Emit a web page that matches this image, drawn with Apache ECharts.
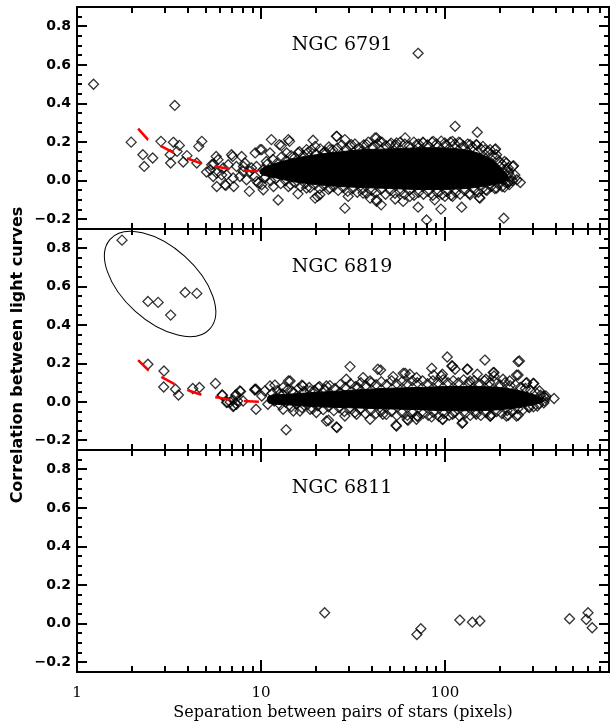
<!DOCTYPE html>
<html>
<head>
<meta charset="utf-8">
<script src="https://cdn.jsdelivr.net/npm/echarts@6/dist/echarts.min.js"></script>
<style>
html,body{margin:0;padding:0;background:#fff;}
#c{width:611px;height:722px;}
</style>
</head>
<body>
<div id="c"></div>
<script>
// ---------------- DATA ----------------
const panelNames = ['NGC 6791', 'NGC 6819', 'NGC 6811'];
const xMajorTicks = [1, 10, 100];
const xMinorTicks = [2,3,4,5,6,7,8,9,20,30,40,50,60,70,80,90,200,300,400,500,600,700];
const yMajorTicks = [-0.2, 0, 0.2, 0.4, 0.6, 0.8];
const yMinorTicks = [-0.15,-0.1,-0.05,0.05,0.1,0.15,0.25,0.3,0.35,0.45,0.5,0.55,0.65,0.7,0.75,0.85];

// NGC 6791 : scattered / edge points
const p1Points = [
[1.23,0.50],[71.5,0.66],[3.4,0.39],[1.97,0.20],[2.28,0.135],[2.32,0.074],[2.58,0.118],[2.86,0.204],
[3.21,0.135],[3.23,0.092],[3.34,0.199],[3.60,0.183],[3.78,0.097],[3.96,0.130],[3.50,0.152],
[4.48,0.092],[4.59,0.178],[4.77,0.204],
[5.06,0.045],[5.31,0.057],[5.53,0.087],[5.71,0.126],[5.84,0.109],[5.75,-0.030],[6.45,-0.024],[7.11,-0.030],
[7.02,0.126],[7.85,0.126],[8.03,0.074],[8.65,-0.055],[9.3,0.144],[9.5,-0.003],[5.40,0.083],[5.50,0.022],
[6.24,0.066],[6.51,0.03],[6.92,0.135],[7.06,0.014],[7.36,0.074],[8.0,0.048],[8.35,0.005],[8.89,0.066],
[9.27,0.022],[9.9,0.161],[10.1,-0.021],[10.5,0.014],[10.7,0.1],[11.4,0.213],[11.2,0.144],[11.7,-0.03],
[12.4,-0.1],[12.6,0.187],[13.2,0.057],[13.8,0.144],[14.1,0.213],[5.75,0.04],[6.12,0.03],[6.64,0.083],
[7.68,0.022],[8.18,0.092],[8.7,0.048],[9.46,0.074],[9.65,-0.012],[10.3,0.057],[6.37,-0.021],
[12.9,0.182],[10.1,0.161],[15.9,0.144],[19.2,0.21],[19.7,0.178],[25.7,0.23],[28.6,0.213],[31.0,0.187],
[37.6,0.187],[42.5,0.222],[23.7,0.161],[17.7,0.161],[21.8,0.144],[35.2,0.152],[14.3,0.204],
[15.9,-0.068],[19.7,-0.09],[20.9,-0.073],[28.6,-0.142],[29.8,-0.081],[42.5,-0.107],[23.7,-0.038],
[10.3,-0.047],[14.1,-0.03],[17.7,-0.038],[35.9,-0.064],[39.2,-0.09],[45,-0.125],[60.8,0.222],
[71.5,-0.137],[79.5,-0.203],[95.2,-0.147],[113.6,0.282],[123.4,-0.137],[150,0.251],[155,-0.09],
[188.6,0.165],[209,-0.194],[216,0.092],[236,0.078],[257,-0.009],[220,-0.009],[211,0.04],[41.7,0.222],
[44.2,0.204],[70.1,0.187],[86.5,0.204],[99.9,0.196],[121,0.196],[137,0.187],[148,0.187],[161,0.178],
[176,0.161],[187,0.161],[191,0.135],[211,0.1],[234,0.074],[221,0.066],[225,-0.004],[211,-0.033],
[50.3,0.187],[54.6,0.196],[76.2,0.196],[110,0.204],[42.5,-0.099],[53.7,-0.095],[59.3,-0.107],[88,-0.099],
[154,-0.087],[110,-0.081],[137,-0.073],[167,-0.047],[191,-0.038],[64.5,-0.081],[100,-0.081],[25.9,0.23],
[20.3,-0.081],
// upper edge of the dense cloud
[10.8,0.085],[11.6,0.11],[12.2,0.09],[13,0.125],[13.7,0.105],[14.6,0.13],[15.3,0.12],[16.2,0.15],[17,0.13],
[17.9,0.145],[18.8,0.16],[19.9,0.14],[21,0.165],[22.3,0.15],[23.4,0.175],[24.6,0.16],[26,0.17],[27.5,0.185],
[29,0.165],[30.6,0.18],[32.4,0.19],[34.1,0.17],[36.2,0.185],[38.3,0.2],[40.5,0.175],[43,0.19],[45.5,0.2],
[48,0.18],[51,0.195],[54,0.185],[57.2,0.2],[60.5,0.19],[64,0.18],[67.8,0.2],[72,0.19],[76,0.2],[80.4,0.185],
[85,0.2],[90,0.19],[95.5,0.205],[101,0.185],[107,0.2],[113,0.19],[119,0.2],[126,0.18],[133,0.19],[141,0.175],
[149,0.185],[157,0.165],[165,0.16],[173,0.15],[181,0.13],[189,0.12],[197,0.1],[205,0.085],[213,0.06],
[222,0.04],[229,0.02],[240,0.03],[246,0.005],
// lower edge of the dense cloud
[10.6,0.02],[11.3,0.0],[12,0.01],[12.8,-0.015],[13.6,0.0],[14.5,-0.02],[15.4,-0.01],[16.4,-0.03],[17.4,-0.015],
[18.5,-0.035],[19.6,-0.02],[20.8,-0.04],[22,-0.025],[23.3,-0.045],[24.8,-0.03],[26.3,-0.05],[28,-0.035],
[29.6,-0.055],[31.5,-0.04],[33.4,-0.06],[35.5,-0.045],[37.6,-0.065],[40,-0.05],[42.3,-0.06],[45,-0.045],
[47.6,-0.07],[50.5,-0.05],[53.5,-0.065],[57,-0.055],[60.4,-0.07],[64,-0.05],[68,-0.075],[72,-0.06],
[76.5,-0.07],[81,-0.055],[86,-0.075],[91,-0.06],[96.5,-0.07],[102,-0.055],[108,-0.075],[114.5,-0.06],
[121,-0.07],[128,-0.05],[136,-0.065],[144,-0.045],[152,-0.06],[160,-0.04],[169,-0.05],[178,-0.03],
[187,-0.04],[196,-0.02],[205,-0.03],[214,-0.01],[224,-0.02],[233,0.0]
];
// NGC 6791 : dense core envelope
const p1CoreX     = [10, 12, 15, 20, 27, 35, 50, 70, 100, 130, 160, 185, 205, 220];
const p1CoreUpper = [0.06, 0.09, 0.115, 0.135, 0.15, 0.16, 0.165, 0.17, 0.17, 0.16, 0.135, 0.1, 0.06, 0.025];
const p1CoreLower = [0.035, 0.015, -0.005, -0.02, -0.03, -0.035, -0.04, -0.045, -0.045, -0.04, -0.03, -0.02, -0.01, 0.005];
// NGC 6791 : red model curve
const p1Model = [[2.15,0.27],[2.43,0.213],[2.88,0.178],[3.43,0.14],[4.06,0.113],[4.82,0.087],[5.7,0.074],[7.1,0.057],[8.43,0.052],[10.2,0.05]];

// NGC 6819 : scattered / edge points
const p2Points = [
[1.757,0.842],[2.43,0.523],[2.76,0.518],[3.23,0.452],[3.87,0.570],[4.48,0.565],
[2.43,0.196],[2.97,0.161],[2.96,0.078],[3.43,0.066],[3.56,0.036],[4.26,0.07],[4.63,0.075],[5.66,0.096],
[6.15,0.036],[6.55,0.0],[7.11,-0.02],[7.33,0.036],[7.74,0.054],[7.47,0.005],[9.4,0.066],[9.4,-0.038],
[10.5,0.057],[11.9,0.088],[10.9,-0.012],[13.7,-0.145],[14.4,0.109],[16.7,0.087],[30.5,0.184],[23.3,-0.095],
[25.9,-0.133],[44.7,0.166],[54.6,-0.125],[60.8,0.149],[62.4,-0.09],[70.6,-0.073],[84.8,0.175],[86.6,0.14],
[96.9,0.144],[103,0.234],[109,0.187],[113.6,0.17],[96.9,-0.09],[125,-0.107],[133,0.17],[150,0.144],
[165,0.218],[185,0.153],[185,0.135],[250,0.21],[250,0.14],[276,0.097],[304,0.096],[327,0.057],[354,0.031],
[392,0.018],[250,-0.069],[216,-0.073],[177,-0.073],
[6.17,0.035],[6.51,-0.003],[7.06,0.01],[7.06,-0.024],[7.3,0.036],[8.0,0.005],[9.27,0.062],[10.1,0.031],
[11.2,0.083],[11.7,0.014],[12.6,0.04],[14.1,0.109],[7.36,-0.012],[6.8,0.0],
[9.27,0.066],[7.68,0.057],[13.2,0.075],[16.9,0.083],[14.7,0.057],[20.5,0.075],[22.7,0.083],[26.8,0.049],
[29.1,0.118],[33.7,0.075],[35.9,0.127],[43.2,0.17],[39.2,0.109],[18.5,0.057],
[13.2,-0.038],[16.3,-0.047],[20,-0.055],[22.7,-0.099],[25.7,-0.13],[28.6,-0.073],[33.1,-0.064],[39.2,-0.09],
[18.5,-0.038],[15.0,-0.047],
[52.3,0.132],[59.3,0.149],[110,0.187],[132,0.17],[183,0.153],[254,0.213],[245,0.14],[278,0.101],[302,0.096],
[344,0.031],[70,0.127],[95.7,0.135],[207,0.118],[225,0.109],[137,0.109],[167,0.118],[64.5,0.144],
[54.2,-0.121],[63,-0.095],[70,-0.09],[84.6,-0.078],[97.5,-0.09],[124,-0.111],[176,-0.073],[221,-0.069],
[245,-0.073],[288,-0.029],[318,-0.021],[46,-0.064],[110,-0.064],[148,-0.064],[347,0.005],
// upper edge of the dense cloud
[11.5,0.045],[12.3,0.06],[13.1,0.04],[14,0.065],[15,0.05],[16,0.07],[17.1,0.055],[18.3,0.075],[19.5,0.06],
[20.8,0.08],[22.2,0.065],[23.7,0.085],[25.3,0.07],[27,0.09],[28.8,0.075],[30.7,0.095],[32.7,0.08],[34.9,0.1],
[37.2,0.085],[39.7,0.1],[42.3,0.09],[45.1,0.105],[48.1,0.09],[51.3,0.11],[54.7,0.095],[58.4,0.105],
[62.3,0.095],[66.4,0.11],[70.8,0.1],[75.5,0.11],[80.5,0.095],[86,0.11],[91.6,0.1],[97.7,0.115],[104,0.1],
[111,0.11],[118.5,0.1],[126.5,0.115],[135,0.1],[144,0.11],[153.5,0.095],[164,0.11],[175,0.1],[186.5,0.105],
[199,0.09],[212,0.1],[226,0.085],[241,0.09],[257,0.075],[274,0.07],[292,0.06],[311,0.05],[331,0.035],[352,0.02],
// lower edge of the dense cloud
[11.8,0.005],[12.7,-0.015],[13.6,0.0],[14.6,-0.025],[15.6,-0.01],[16.7,-0.03],[17.9,-0.015],[19.1,-0.035],
[20.4,-0.02],[21.8,-0.04],[23.3,-0.025],[24.9,-0.045],[26.6,-0.03],[28.4,-0.05],[30.3,-0.035],[32.4,-0.055],
[34.6,-0.04],[37,-0.06],[39.5,-0.045],[42.2,-0.06],[45,-0.05],[48,-0.065],[51.3,-0.05],[54.8,-0.07],
[58.5,-0.055],[62.5,-0.07],[66.7,-0.055],[71.2,-0.075],[76,-0.06],[81.2,-0.07],[86.7,-0.055],[92.6,-0.075],
[98.9,-0.06],[105.6,-0.07],[112.8,-0.055],[120.5,-0.075],[128.7,-0.06],[137.4,-0.07],[146.7,-0.055],
[156.7,-0.07],[167.4,-0.055],[178.8,-0.065],[191,-0.05],[204,-0.06],[218,-0.045],[233,-0.05],[249,-0.035],
[266,-0.04],[284,-0.025],[303,-0.025],[323,-0.01],[345,-0.005]
];
const p2CoreX     = [11, 14, 20, 30, 45, 70, 100, 150, 200, 250, 300, 340];
const p2CoreUpper = [0.03, 0.04, 0.05, 0.06, 0.07, 0.075, 0.08, 0.08, 0.075, 0.06, 0.04, 0.015];
const p2CoreLower = [-0.005, -0.015, -0.025, -0.03, -0.035, -0.04, -0.045, -0.045, -0.04, -0.03, -0.015, 0.0];
const p2Model = [[2.15,0.218],[2.44,0.166],[2.92,0.127],[3.41,0.092],[4.12,0.057],[4.82,0.035],[5.85,0.023],[7.08,0.008],[8.5,0.004],[10.3,0.0]];
// circled group in NGC 6819 (ellipse centre, data units)
const p2EllipseCentre = [[2.83, 0.614]];

// NGC 6811
const p3Points = [[22.2,0.057],[70.4,-0.056],[74,-0.026],[120.5,0.019],[141,0.008],[155,0.014],[476,0.026],[587,0.022],[600,0.057],[632,-0.021]];

// ---------------- CHART ----------------
const chart = echarts.init(document.getElementById('c'));
const X_MIN = 1, X_MAX = 780, Y_MIN = -0.25, Y_MAX = 0.9;
const gridTops = [7, 229, 450];
const gridHeights = [222, 221, 222];
const LEFT = 77, WIDTH = 532;
const TICK = {xMaj: 12, xMin: 6, yMaj: 10, yMin: 5};

const grids = [], xAxes = [], yAxes = [], series = [], titles = [];
const panelPoints = [p1Points, p2Points, p3Points];
const cores = [[p1CoreX, p1CoreUpper, p1CoreLower], [p2CoreX, p2CoreUpper, p2CoreLower], null];
const models = [p1Model, p2Model, null];

function tickRenderer(params, api) {
  const children = [];
  const yb = api.coord([X_MIN, Y_MIN])[1], yt = api.coord([X_MIN, Y_MAX])[1];
  const xl = api.coord([X_MIN, 0])[0], xr = api.coord([X_MAX, 0])[0];
  function st() { return {stroke: '#000', lineWidth: 2, fill: null}; }
  function xt(v, len) {
    const x = Math.round(api.coord([v, 0])[0]);
    children.push({type: 'line', shape: {x1: x, y1: yb, x2: x, y2: yb - len}, style: st()});
    children.push({type: 'line', shape: {x1: x, y1: yt, x2: x, y2: yt + len}, style: st()});
  }
  function ytk(v, len) {
    const y = Math.round(api.coord([X_MIN, v])[1]);
    children.push({type: 'line', shape: {x1: xl, y1: y, x2: xl + len, y2: y}, style: st()});
    children.push({type: 'line', shape: {x1: xr, y1: y, x2: xr - len, y2: y}, style: st()});
  }
  xMajorTicks.forEach(v => xt(v, TICK.xMaj));
  xMinorTicks.forEach(v => xt(v, TICK.xMin));
  yMajorTicks.forEach(v => ytk(v, TICK.yMaj));
  yMinorTicks.forEach(v => ytk(v, TICK.yMin));
  return {type: 'group', children: children};
}

for (let g = 0; g < 3; g++) {
  grids.push({left: LEFT, width: WIDTH, top: gridTops[g], height: gridHeights[g],
    show: true, borderColor: '#000', borderWidth: 2, backgroundColor: 'transparent'});
  const isLast = g === 2;
  xAxes.push({
    type: 'log', gridIndex: g, min: X_MIN, max: X_MAX, position: 'bottom',
    splitLine: {show: false},
    axisLine: {show: false, onZero: false},
    axisTick: {show: false},
    axisLabel: {show: isLast, customValues: xMajorTicks, margin: 14, color: '#000',
      fontFamily: 'DejaVu Serif', fontSize: 15, formatter: v => String(Math.round(v))},
    name: isLast ? 'Separation between pairs of stars (pixels)' : '',
    nameLocation: 'middle', nameGap: 33,
    nameTextStyle: {fontFamily: 'DejaVu Serif', fontSize: 16, color: '#000'}
  });
  yAxes.push({
    type: 'value', gridIndex: g, min: Y_MIN, max: Y_MAX, position: 'left',
    splitLine: {show: false},
    axisLine: {show: false, onZero: false},
    axisTick: {show: false},
    axisLabel: {show: true, customValues: yMajorTicks, margin: 6, color: '#000',
      fontFamily: 'DejaVu Sans', fontWeight: 'bold', fontSize: 14,
      formatter: v => (v < -1e-9 ? '\u2212' : '') + Math.abs(v).toFixed(1)}
  });

  if (cores[g]) {
    const [cx, cu, cl] = cores[g];
    series.push({
      type: 'custom', xAxisIndex: g, yAxisIndex: g, silent: true, z: 1,
      data: [[cx[0], cu[0]]],
      renderItem: function (params, api) {
        const pts = [];
        for (let i = 0; i < cx.length; i++) pts.push(api.coord([cx[i], cu[i]]));
        for (let i = cx.length - 1; i >= 0; i--) pts.push(api.coord([cx[i], cl[i]]));
        return {type: 'polygon', shape: {points: pts, smooth: 0.3}, style: {fill: '#000', stroke: '#000', lineWidth: 1}};
      }
    });
  }
  series.push({
    type: 'scatter', xAxisIndex: g, yAxisIndex: g, z: 2,
    symbol: 'diamond', symbolSize: 10,
    itemStyle: {color: 'rgba(0,0,0,0)', borderColor: '#000', borderWidth: 1.3},
    emphasis: {disabled: true}, silent: true,
    data: panelPoints[g]
  });
  if (models[g]) {
    series.push({
      type: 'line', xAxisIndex: g, yAxisIndex: g, z: 5,
      showSymbol: false, symbol: 'none', silent: true,
      lineStyle: {color: '#ff0000', width: 2.6, type: [15, 14]},
      data: models[g]
    });
  }
  if (g === 1) {
    series.push({
      type: 'custom', xAxisIndex: g, yAxisIndex: g, silent: true, z: 3,
      data: p2EllipseCentre,
      renderItem: function (params, api) {
        const p = api.coord([api.value(0), api.value(1)]);
        return {type: 'ellipse', x: p[0], y: p[1], rotation: -42 * Math.PI / 180,
          shape: {cx: 0, cy: 0, rx: 67, ry: 37},
          style: {fill: null, stroke: '#000', lineWidth: 1}};
      }
    });
  }
  // axis ticks (inside, on all four sides), placed through the axis scales
  series.push({
    type: 'custom', xAxisIndex: g, yAxisIndex: g, silent: true, z: 50, zlevel: 1, clip: false,
    data: [[X_MIN, Y_MIN]],
    renderItem: tickRenderer
  });
  titles.push({
    text: panelNames[g], left: 337, top: gridTops[g] + 24, textAlign: 'center',
    textStyle: {fontFamily: 'DejaVu Serif', fontSize: 19, fontWeight: 'normal', color: '#000'}
  });
}

chart.setOption({
  animation: false,
  backgroundColor: '#fff',
  title: titles,
  grid: grids,
  xAxis: xAxes,
  yAxis: yAxes,
  series: series,
  graphic: [{
    type: 'text', x: 18, y: 355, rotation: Math.PI / 2,
    style: {text: 'Correlation between light curves', fill: '#000',
      font: '600 16px "DejaVu Sans"', align: 'center', verticalAlign: 'middle',
      textAlign: 'center', textVerticalAlign: 'middle'}
  }]
});
</script>
</body>
</html>
